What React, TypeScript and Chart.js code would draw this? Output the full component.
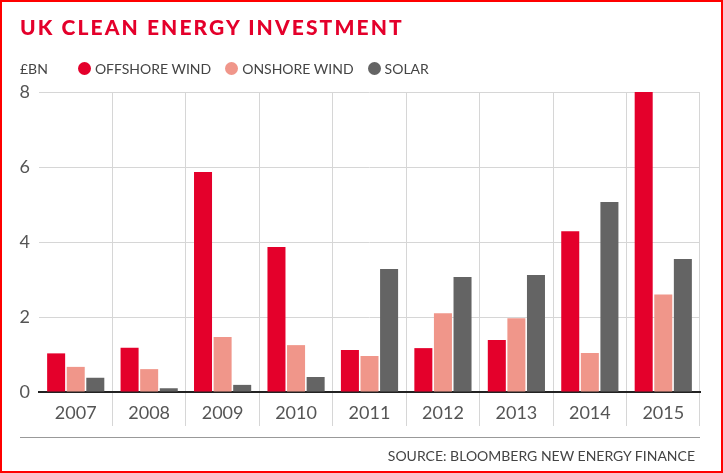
import React, { useEffect, useRef } from "react";
import { Chart, registerables } from "chart.js";

Chart.register(...registerables);

const years = ["2007", "2008", "2009", "2010", "2011", "2012", "2013", "2014", "2015"];
const offshoreWind = [1.03, 1.18, 5.87, 3.87, 1.12, 1.17, 1.39, 4.29, 8.0];
const onshoreWind = [0.67, 0.61, 1.47, 1.25, 0.96, 2.1, 1.97, 1.04, 2.6];
const solar = [0.38, 0.1, 0.19, 0.4, 3.28, 3.07, 3.12, 5.07, 3.55];
const seriesNames = ["OFFSHORE WIND", "ONSHORE WIND", "SOLAR"];
const seriesColors = ["#e4002b", "#f0968a", "#646464"];
const yTicks = [0, 2, 4, 6, 8];

const tickFont = "Lato, sans-serif";

export default function App() {
  const ref = useRef<HTMLCanvasElement | null>(null);

  useEffect(() => {
    document.body.style.margin = "0";
    const canvas = ref.current;
    if (!canvas) return;
    const chart = new Chart(canvas, {
      type: "bar",
      data: {
        labels: years,
        datasets: [offshoreWind, onshoreWind, solar].map((d, i) => ({
          label: seriesNames[i],
          data: d,
          backgroundColor: seriesColors[i],
          borderWidth: 0,
          barPercentage: 0.92,
          categoryPercentage: 0.8,
        })),
      },
      options: {
        animation: false,
        responsive: false,
        devicePixelRatio: 1,
        layout: { padding: { left: 0, right: 23, top: 92, bottom: 0 } },
        plugins: { legend: { display: false }, tooltip: { enabled: false } },
        scales: {
          x: {
            afterFit: (s: any) => {
              s.height = 81;
            },
            grid: {
              offset: true,
              color: (c: any) =>
                c.index === 0 || c.index === years.length ? "rgba(0,0,0,0)" : "#d6d6d6",
              lineWidth: 1,
              drawTicks: true,
              tickLength: 34,
            },
            border: { display: true, color: "#222", width: 2 },
            ticks: {
              color: "#555",
              font: { family: tickFont, size: 18 },
              padding: -24,
            },
          },
          y: {
            min: 0,
            max: 8,
            afterFit: (s: any) => {
              s.width = 39;
            },
            afterBuildTicks: (s: any) => {
              s.ticks = yTicks.map((v) => ({ value: v }));
            },
            grid: { color: "#d6d6d6", drawTicks: false, lineWidth: 1 },
            border: { display: false },
            ticks: {
              color: "#555",
              font: { family: tickFont, size: 18 },
              padding: 9,
            },
          },
        },
      },
    });
    return () => chart.destroy();
  }, []);

  return (
    <div style={{ position: "fixed", left: 0, top: 0, width: 723, height: 473, background: "#fff" }}>
      <canvas
        ref={ref}
        width={723}
        height={473}
        style={{ position: "absolute", left: 0, top: 0, width: 723, height: 473 }}
      />
      <div
        style={{
          position: "absolute",
          left: 20,
          top: 14,
          fontFamily: "Lato, 'Open Sans', sans-serif",
          fontWeight: 900,
          fontSize: 21,
          letterSpacing: 2.1,
          color: "#e4002b",
          whiteSpace: "nowrap",
        }}
      >
        UK CLEAN ENERGY INVESTMENT
      </div>
      <div
        style={{
          position: "absolute",
          left: 20,
          top: 60,
          display: "flex",
          alignItems: "center",
          fontFamily: "Lato, sans-serif",
          fontSize: 14,
          color: "#444",
          whiteSpace: "nowrap",
        }}
      >
        <span style={{ marginRight: 30 }}>£BN</span>
        {seriesNames.map((n, i) => (
          <span key={n} style={{ display: "flex", alignItems: "center", marginRight: 14 }}>
            <span
              style={{
                width: 13,
                height: 13,
                borderRadius: "50%",
                background: seriesColors[i],
                display: "inline-block",
                marginRight: 4,
              }}
            />
            {n}
          </span>
        ))}
      </div>
      <div
        style={{
          position: "absolute",
          left: 20,
          top: 437,
          width: 680,
          height: 1,
          background: "#999",
        }}
      />
      <div
        style={{
          position: "absolute",
          right: 28,
          top: 447,
          fontFamily: "Lato, sans-serif",
          fontSize: 14,
          color: "#444",
          whiteSpace: "nowrap",
        }}
      >
        SOURCE: BLOOMBERG NEW ENERGY FINANCE
      </div>
      <div
        style={{
          position: "absolute",
          left: 0,
          top: 0,
          width: 723,
          height: 473,
          boxSizing: "border-box",
          border: "2px solid #ff0000",
          pointerEvents: "none",
        }}
      />
    </div>
  );
}
